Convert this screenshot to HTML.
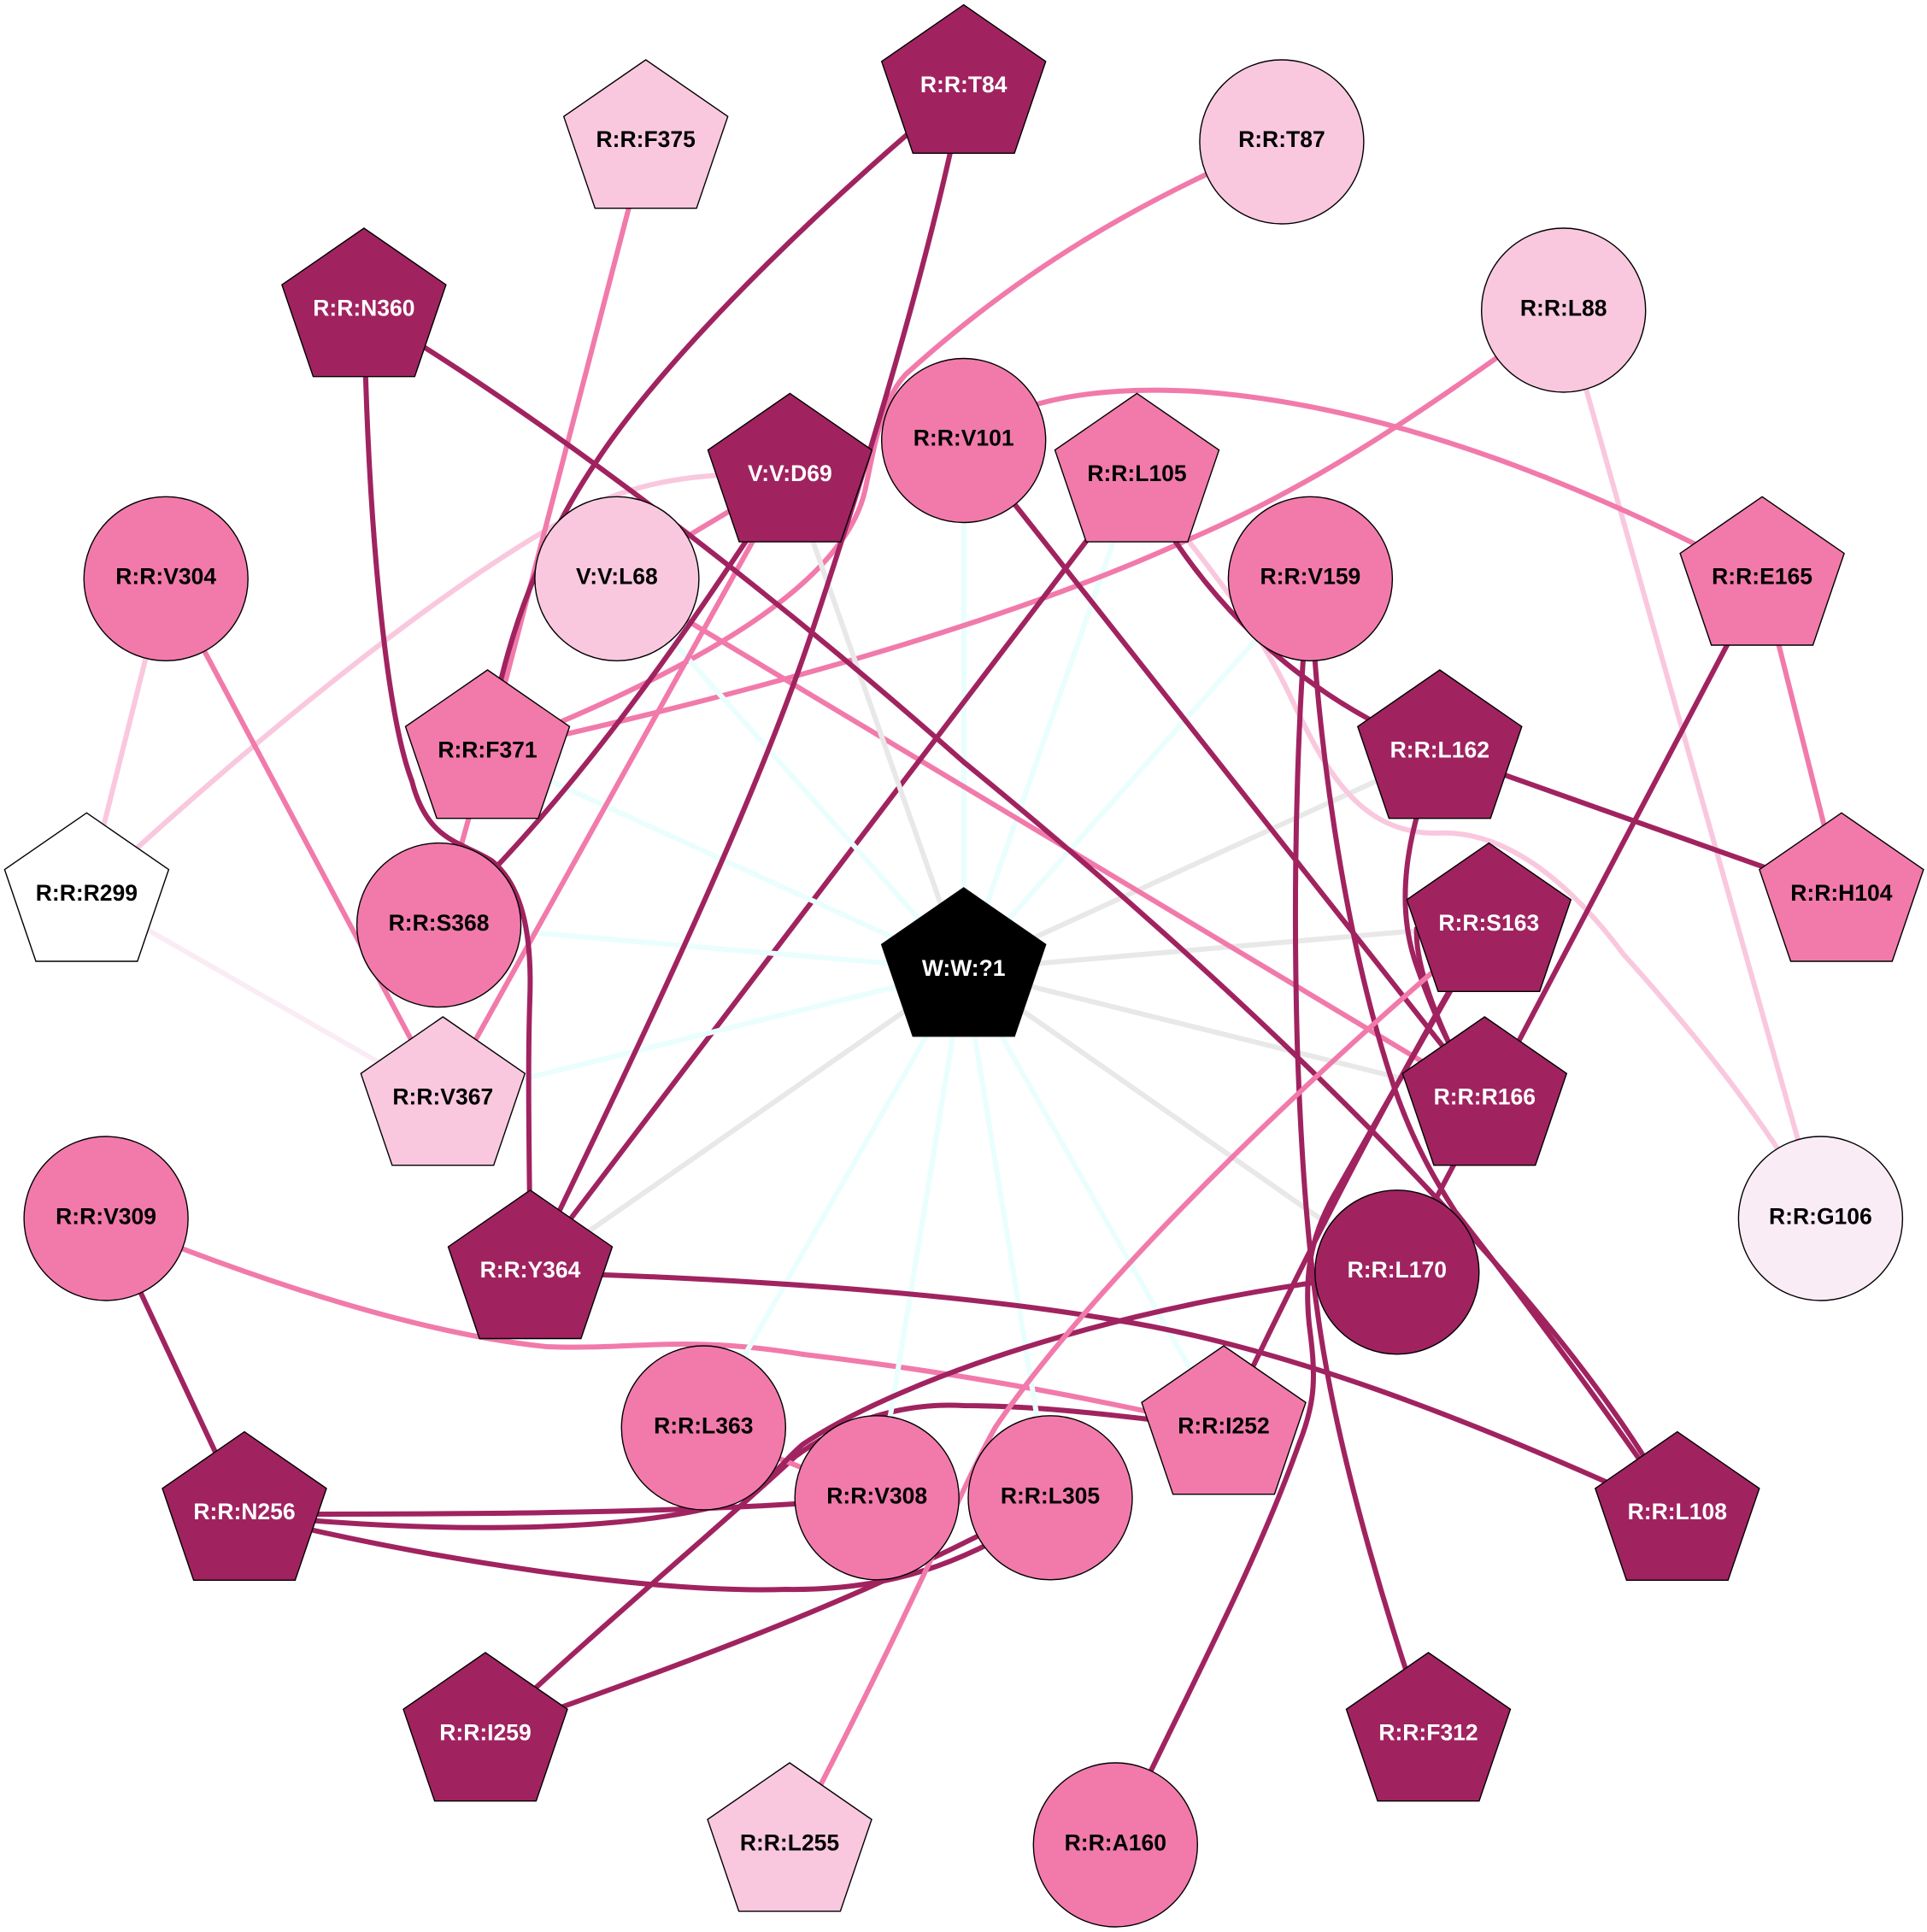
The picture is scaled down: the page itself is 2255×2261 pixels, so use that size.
<!DOCTYPE html>
<html><head><meta charset="utf-8"><style>
html,body{margin:0;padding:0;background:#fff}
svg{display:block}
text{font-family:"Liberation Sans",Arial,sans-serif;font-weight:bold;font-size:26.5px;text-anchor:middle}
.d{stroke:#a02360}.m{stroke:#f17aab}.l{stroke:#f9c8de}.v{stroke:#faecf4}.c{stroke:#e9fefd}.g{stroke:#e8e8e8}
.e path{fill:none;stroke-width:6}
.n polygon,.n circle{stroke:#000;stroke-width:1.4}
.D{fill:#a02360}.M{fill:#f17aab}.L{fill:#f9c8de}.V{fill:#faecf4}
.w{fill:#fff}.b{fill:#000}
</style></head><body>
<svg width="2255" height="2261" viewBox="0 0 2255 2261" xmlns="http://www.w3.org/2000/svg">
<rect width="2255" height="2261" fill="#fff"/>
<defs><polygon id="p" points="0,-96 96,-29.7 59.4,77.7 -59.4,77.7 -96,-29.7"/></defs>
<g class="e">
<path class="c" d="M1128 1135L1128 515"/>
<path class="c" d="M1128 1135L1330 556"/>
<path class="c" d="M1128 1135L1533 677"/>
<path class="g" d="M1128 1135L1685 880"/>
<path class="g" d="M1128 1135L1742 1082"/>
<path class="g" d="M1128 1135L1737 1286"/>
<path class="g" d="M1128 1135L1635 1489"/>
<path class="l" d="M194 677L101 1047"/>
<path class="l" d="M1830 363L2130 1426"/>
<path class="l" d="M101 1047C280 880 520 680 690 592C770 555 850 553 924 556"/>
<path class="l" d="M1330 556C1420 670 1470 730 1510 815C1550 900 1590 975 1680 975C1760 970 1835 1030 1900 1117C1970 1195 2060 1300 2130 1426"/>
<path class="v" d="M101 1047L518 1286"/>
<path class="m" d="M756 166L570 880"/>
<path class="m" d="M1500 165C1330 235 1190 320 1060 438C1030 470 1022 530 1012 575C985 690 800 790 570 880"/>
<path class="m" d="M1830 363C1700 455 1560 560 1387 633C1240 700 1000 785 570 880"/>
<path class="m" d="M722 677L1737 1286"/>
<path class="m" d="M124 1426C280 1490 480 1560 640 1576C740 1580 800 1562 940 1585C1150 1610 1290 1640 1432 1671"/>
<path class="d" d="M1330 556L620 1489"/>
<path class="d" d="M568 2030C700 1905 850 1780 930 1705C970 1675 1040 1640 1128 1645C1230 1645 1330 1660 1432 1671"/>
<path class="c" d="M1128 1135L722 677"/>
<path class="c" d="M1128 1135L570 880"/>
<path class="c" d="M1128 1135L514 1082"/>
<path class="c" d="M1128 1135L518 1286"/>
<path class="c" d="M1128 1135L823 1671"/>
<path class="c" d="M1128 1135L1026 1753"/>
<path class="c" d="M1128 1135L1229 1753"/>
<path class="c" d="M1128 1135L1432 1671"/>
<path class="g" d="M1128 1135L924 556"/>
<path class="g" d="M1128 1135L620 1489"/>
<path class="m" d="M1128 515C1190 465 1290 452 1400 458C1640 475 1880 580 2062 677"/>
<path class="m" d="M194 677L518 1286"/>
<path class="m" d="M924 556L722 677"/>
<path class="m" d="M924 556L518 1286"/>
<path class="m" d="M570 880L514 1082"/>
<path class="m" d="M2062 677L2155 1047"/>
<path class="m" d="M823 1671L1026 1753"/>
<path class="d" d="M1128 102C1000 205 790 400 698 540C640 625 590 740 570 880"/>
<path class="d" d="M1128 102C1090 300 1010 560 949.6 741C880 950 740 1240 620 1489"/>
<path class="d" d="M426 363C640 490 900 690 1128 892C1420 1130 1820 1500 1963 1772"/>
<path class="d" d="M924 556C810 730 680 925 513.6 1082"/>
<path class="d" d="M426 363C430 600 450 830 482 914C500 985 540 985 575 1007C610 1035 623 1090 620 1170C617 1260 620 1380 620.5 1489"/>
<path class="d" d="M1330 556C1385 665 1490 805 1685 880"/>
<path class="d" d="M1685 880L2155 1047"/>
<path class="d" d="M1685 880C1650 960 1630 1050 1657 1128C1675 1180 1700 1240 1737 1286"/>
<path class="d" d="M1658 1085C1655 1120 1675 1180 1705 1240"/>
<path class="d" d="M1128 515L1737 1286"/>
<path class="d" d="M1533 677C1520 800 1512 1000 1518 1220C1522 1340 1530 1480 1552 1600C1575 1730 1625 1900 1671 2030"/>
<path class="d" d="M1533 677C1540 850 1570 1090 1632 1274C1655 1340 1680 1382 1703 1418C1760 1490 1880 1650 1963 1772"/>
<path class="d" d="M2062 677L1635 1489"/>
<path class="d" d="M1742 1082C1670 1200 1560 1400 1432 1671"/>
<path class="d" d="M1742 1082C1680 1190 1605 1320 1565 1392C1530 1450 1527 1500 1532 1550C1540 1610 1540 1640 1520 1690C1470 1830 1400 1960 1305 2159"/>
<path class="d" d="M124 1426L286 1772"/>
<path class="d" d="M286 1772C500 1772 800 1773 1026 1753"/>
<path class="d" d="M286 1772C450 1790 700 1800 850 1760C900 1740 915 1710 940 1690C1060 1610 1330 1520 1635 1489"/>
<path class="d" d="M286 1772C500 1825 760 1865 920 1860C1040 1862 1130 1830 1229 1765"/>
<path class="d" d="M568 2030C760 1960 1000 1880 1229 1753"/>
<path class="d" d="M620 1489C830 1495 1100 1510 1300 1544C1500 1575 1720 1660 1963 1772"/>
<path class="m" d="M1742 1082C1540 1250 1280 1500 1165 1670C1125 1740 1070 1880 924 2159"/>
</g>
<g class="n">
<use href="#p" transform="translate(755.7 166)" class="L" stroke="#000" stroke-width="1.4"/><text x="755.7" y="172">R:R:F375</text>
<use href="#p" transform="translate(1127.7 101.6)" class="D" stroke="#000" stroke-width="1.4"/><text class="w" x="1127.7" y="108">R:R:T84</text>
<circle class="L" cx="1499.9" cy="166" r="96"/><text x="1499.9" y="172">R:R:T87</text>
<use href="#p" transform="translate(425.9 363)" class="D" stroke="#000" stroke-width="1.4"/><text class="w" x="425.9" y="369.5">R:R:N360</text>
<circle class="L" cx="1829.7" cy="363" r="96"/><text x="1829.7" y="369.5">R:R:L88</text>
<use href="#p" transform="translate(924.4 556.4)" class="D" stroke="#000" stroke-width="1.4"/><text class="w" x="924.4" y="563">V:V:D69</text>
<circle class="M" cx="1127.7" cy="515.5" r="96"/><text x="1127.7" y="521.5">R:R:V101</text>
<use href="#p" transform="translate(1330.5 556.4)" class="M" stroke="#000" stroke-width="1.4"/><text x="1330.5" y="563">R:R:L105</text>
<circle class="M" cx="194.2" cy="677.3" r="96"/><text x="194.2" y="683.5">R:R:V304</text>
<circle class="L" cx="721.9" cy="677.3" r="96"/><text x="721.9" y="683.5">V:V:L68</text>
<circle class="M" cx="1533.4" cy="677.3" r="96"/><text x="1533.4" y="683.5">R:R:V159</text>
<use href="#p" transform="translate(2062.1 677.3)" class="M" stroke="#000" stroke-width="1.4"/><text x="2062.1" y="683.5">R:R:E165</text>
<use href="#p" transform="translate(570.5 880)" class="M" stroke="#000" stroke-width="1.4"/><text x="570.5" y="886.5">R:R:F371</text>
<use href="#p" transform="translate(1684.8 880)" class="D" stroke="#000" stroke-width="1.4"/><text class="w" x="1684.8" y="886.5">R:R:L162</text>
<use href="#p" transform="translate(101.4 1047.3)" fill="#fff" stroke="#000" stroke-width="1.4"/><text x="101.4" y="1054">R:R:R299</text>
<use href="#p" transform="translate(2154.9 1047.3)" class="M" stroke="#000" stroke-width="1.4"/><text x="2154.9" y="1054">R:R:H104</text>
<circle class="M" cx="513.6" cy="1082.6" r="96"/><text x="513.6" y="1089">R:R:S368</text>
<use href="#p" transform="translate(1742.3 1082.6)" class="D" stroke="#000" stroke-width="1.4"/><text class="w" x="1742.3" y="1089">R:R:S163</text>
<use href="#p" transform="translate(1127.7 1135)" class="b" stroke="#000" stroke-width="1.4"/><text class="w" x="1127.7" y="1142">W:W:?1</text>
<use href="#p" transform="translate(518.3 1286)" class="L" stroke="#000" stroke-width="1.4"/><text x="518.3" y="1292.5">R:R:V367</text>
<use href="#p" transform="translate(1737.3 1286)" class="D" stroke="#000" stroke-width="1.4"/><text class="w" x="1737.3" y="1292.5">R:R:R166</text>
<circle class="M" cx="124.1" cy="1426" r="96"/><text x="124.1" y="1432.5">R:R:V309</text>
<circle class="V" cx="2130.4" cy="1426" r="96"/><text x="2130.4" y="1432.5">R:R:G106</text>
<use href="#p" transform="translate(620.5 1488.8)" class="D" stroke="#000" stroke-width="1.4"/><text class="w" x="620.5" y="1495">R:R:Y364</text>
<circle class="D" cx="1634.8" cy="1488.8" r="96"/><text class="w" x="1634.8" y="1495">R:R:L170</text>
<circle class="M" cx="823.3" cy="1671" r="96"/><text x="823.3" y="1677.5">R:R:L363</text>
<use href="#p" transform="translate(1432 1671)" class="M" stroke="#000" stroke-width="1.4"/><text x="1432" y="1677.5">R:R:I252</text>
<circle class="M" cx="1026.2" cy="1752.8" r="96"/><text x="1026.2" y="1759.3">R:R:V308</text>
<circle class="M" cx="1229" cy="1752.8" r="96"/><text x="1229" y="1759.3">R:R:L305</text>
<use href="#p" transform="translate(286 1771.6)" class="D" stroke="#000" stroke-width="1.4"/><text class="w" x="286" y="1778">R:R:N256</text>
<use href="#p" transform="translate(1962.8 1771.6)" class="D" stroke="#000" stroke-width="1.4"/><text class="w" x="1962.8" y="1778">R:R:L108</text>
<use href="#p" transform="translate(568 2030)" class="D" stroke="#000" stroke-width="1.4"/><text class="w" x="568" y="2036.5">R:R:I259</text>
<use href="#p" transform="translate(1671.5 2030)" class="D" stroke="#000" stroke-width="1.4"/><text class="w" x="1671.5" y="2036.5">R:R:F312</text>
<use href="#p" transform="translate(924 2159)" class="L" stroke="#000" stroke-width="1.4"/><text x="924" y="2165.5">R:R:L255</text>
<circle class="M" cx="1305.3" cy="2159" r="96"/><text x="1305.3" y="2165.5">R:R:A160</text>
</g>
</svg>
</body></html>
